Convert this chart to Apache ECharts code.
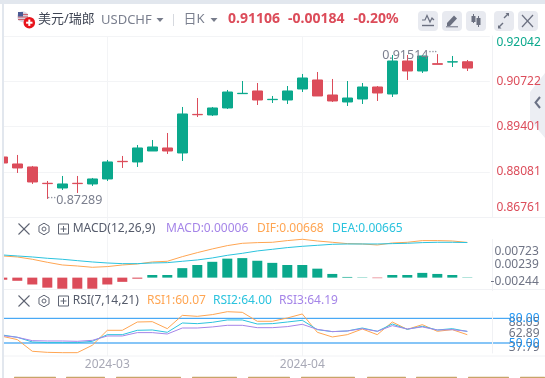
<!DOCTYPE html>
<html><head><meta charset="utf-8">
<style>html,body{margin:0;padding:0;background:#fff}#c{width:545px;height:378px}</style>
<script src="https://cdn.jsdelivr.net/npm/echarts@6/dist/echarts.min.js"></script>
</head><body><div id="c"></div>
<script>
// [open, close, low, high]
const candles = [
[.88512,.88337,.88192,.88629],[.88308,.88192,.88046,.88571],[.88221,.87783,.87725,.88250],[.87745,.87735,.87289,.87812],
[.87608,.87725,.87550,.87958],[.87745,.87735,.87462,.87958],[.87725,.87871,.87667,.87900],[.87871,.88367,.87812,.88425],
[.88385,.88375,.88192,.88542],[.88367,.88775,.88221,.88862],[.88687,.88804,.88687,.89008],[.88775,.88687,.88600,.89212],
[.88629,.89767,.88396,.89971],[.89755,.89745,.89679,.90233],[.89738,.89942,.89708,.89971],[.89942,.90408,.89913,.90467],
[.90360,.90370,.90360,.90729],[.90438,.90175,.90029,.90671],[.90185,.90195,.90088,.90292],[.90175,.90438,.90058,.90583],
[.90496,.90817,.90408,.90934],[.90759,.90292,.90292,.90992],[.90321,.90146,.90117,.90788],[.90117,.90233,.90000,.90729],
[.90204,.90554,.90058,.90671],[.90554,.90379,.90146,.90583],[.90350,.91313,.90263,.91488],[.91313,.91021,.90759,.91488],
[.91021,.91459,.90963,.91488],[.91235,.91215,.91215,.91514],[.91283,.91290,.91138,.91459],[.91290,.91106,.91021,.91342]];
const macdBars = [-.0004,-.0006,-.0013,-.0019,-.0021,-.0021,-.0021,-.0013,-.0008,-.0002,.0005,.0005,.0018,.0024,.0030,.0036,.0037,.0032,.0028,.0024,.0024,.0017,.0007,.00013,.00006,-.0001,.0005,.0005,.0009,.0007,.0005,.00006];
const dif = [.00411,.00392,.00348,.00291,.00240,.00221,.00196,.00209,.00240,.00259,.00297,.00310,.00398,.00474,.00544,.00607,.00651,.00664,.00670,.00702,.00727,.00695,.00670,.00645,.00638,.00619,.00657,.00670,.00702,.00702,.00695,.00668];
const dea = [.00430,.00411,.00392,.00367,.00348,.00322,.00297,.00278,.00265,.00265,.00278,.00284,.00310,.00335,.00373,.00423,.00461,.00506,.00537,.00569,.00594,.00613,.00632,.00638,.00638,.00638,.00645,.00651,.00664,.00670,.00670,.00665];
const rsi1 = [58.1,54.1,39.9,38.6,38.2,38.2,47.2,65.4,65.4,75.5,75.9,67.4,83.6,82.4,84.5,88.05,87.3,76.4,76.4,80.4,85.3,63.0,57.3,60.1,67.0,60.1,75.5,66.6,72.3,64.2,66.2,60.07];
const rsi2 = [59.7,56.9,51.2,50.4,50.4,50.4,52.0,60.1,60.1,65.4,65.8,63.0,74.3,73.5,75.1,78.0,78.0,73.1,73.5,75.5,77.6,66.2,63.8,64.6,68.2,64.2,73.1,66.6,70.3,65.8,67.4,64.00];
const rsi3 = [58.9,56.9,52.8,52.4,52.4,52.0,53.2,58.5,58.5,62.6,62.6,60.9,68.2,68.2,69.5,71.5,71.5,68.6,68.6,69.9,72.7,66.6,63.8,64.6,67.4,64.2,71.1,67.0,69.5,65.8,66.2,64.19];
const priceTicks = [0.92042,0.90722,0.89401,0.88081,0.86761];
const macdTicks = [0.00723,0.00239,-0.00244];
const rsiTicks = [88.05,62.89,37.79];
const rsiTickNudge = [11,1.5,-5];
const rsiLevels = [80,50];
const monthIdx = [7,20];
const monthLabels = ['2024-03','2024-04'];
const categories = Array.from({length:33},(_,i)=>String(i));

const GREEN='#0aa88c',RED='#dc4c5a',ORANGE='#ffa552',CYAN='#2bc3de',PURPLE='#a585e8',GRID='#f3f4f6',AXT='#6f7485',BLUE='#2196f3',LBLUE='#86c5f7';
const FONT='"Noto Sans","Noto Sans CJK SC",sans-serif';
const L=-5.2,W=495;
const xAxisBase=(gi)=>({type:'category',gridIndex:gi,data:categories,boundaryGap:true,axisLine:{show:false},axisTick:{show:false},axisLabel:{show:false},splitLine:{show:false}});
const chart=echarts.init(document.getElementById('c'),null,{renderer:'canvas'});
const gridBase={left:L,width:W,outerBoundsMode:'none',containLabel:false};
const lab=(c,t,b)=>({color:c,fontSize:12,fontFamily:FONT,padding:[t,0,b,0]});
chart.setOption({
 animation:false,
 textStyle:{fontFamily:FONT},
 grid:[
  Object.assign({top:36,height:181},gridBase),
  Object.assign({top:239.5,height:51},gridBase),
  Object.assign({top:311.7,height:41.3},gridBase),
  Object.assign({top:36,height:320},gridBase)
 ],
 xAxis:[xAxisBase(0),xAxisBase(1),xAxisBase(2),
  Object.assign(xAxisBase(3),{
   axisLabel:{show:true,interval:(i)=>monthIdx.includes(i),formatter:(v,i)=>monthLabels[monthIdx.indexOf(i)]||'',color:'#a8a9b6',fontSize:12,margin:3,fontFamily:FONT},
   splitLine:{show:true,interval:(i)=>monthIdx.includes(i),alignWithLabel:true,lineStyle:{color:GRID,width:1}}
  })],
 yAxis:[
  {type:'value',gridIndex:0,position:'right',offset:2,min:0.86761,max:0.92042,z:2,
   axisLine:{show:true,lineStyle:{color:'#f0f1f4'}},
   axisTick:{show:false,customValues:priceTicks},
   splitLine:{show:true,lineStyle:{color:GRID}},
   axisLabel:{customValues:priceTicks,margin:49,align:'right',fontSize:12,fontFamily:FONT,showMinLabel:true,showMaxLabel:true,hideOverlap:false,
     formatter:v=>v>0.92?'{top|'+v.toFixed(5)+'}':v<0.87?'{bot|'+v.toFixed(5)+'}':'{mid|'+v.toFixed(5)+'}',
     rich:{top:lab(GREEN,14,0),bot:lab(RED,0,18),mid:lab(RED,0,0)}}},
  {type:'value',gridIndex:1,position:'right',offset:2,min:-0.00244,max:0.00723,z:2,
   axisLine:{show:true,lineStyle:{color:'#f0f1f4'}},axisTick:{show:false,customValues:macdTicks},splitLine:{show:false},
   axisLabel:{customValues:macdTicks,margin:47,align:'right',fontSize:12,color:AXT,fontFamily:FONT,showMinLabel:true,showMaxLabel:true,hideOverlap:false,
     formatter:v=>v>0.005?'{top|'+v.toFixed(5)+'}':v<0?'{bot|'+v.toFixed(5)+'}':'{mid|'+v.toFixed(5)+'}',
     rich:{top:lab(AXT,24,0),bot:lab(AXT,0,17),mid:lab(AXT,0,0)}}},
  {type:'value',gridIndex:2,position:'right',offset:2,min:37.79,max:88.05,z:2,
   axisLine:{show:true,lineStyle:{color:'#f0f1f4'}},axisTick:{show:false},splitLine:{show:false},
   axisLabel:{show:false}},
  {type:'value',gridIndex:3,min:0,max:1,show:false}
 ],
 series:[
  {type:'candlestick',xAxisIndex:0,yAxisIndex:0,data:candles,barWidth:10,z:3,
   itemStyle:{color:GREEN,color0:RED,borderColor:GREEN,borderColor0:RED,borderWidth:1},
   markPoint:{symbol:'circle',symbolSize:0,silent:true,animation:false,
    data:[
     {coord:[3,0.87289],label:{show:true,position:'right',distance:0,offset:[0,2],formatter:'{d|···}{v|0.87289}'}},
     {coord:[29,0.91514],label:{show:true,position:'left',distance:0,offset:[0,1],formatter:'{v|0.91514}{d|···}'}}
    ],
    label:{rich:{v:{color:'#7b7f8e',fontSize:12.5,fontFamily:FONT},d:{color:'#8a8e9b',fontSize:11,padding:[0,0,7,0]}}}}},
  {type:'bar',xAxisIndex:1,yAxisIndex:1,data:macdBars,barWidth:10,z:2,itemStyle:{color:p=>p.value>=0?GREEN:RED}},
  {type:'line',xAxisIndex:1,yAxisIndex:1,data:dif,symbol:'none',clip:false,lineStyle:{color:ORANGE,width:1},z:3},
  {type:'line',xAxisIndex:1,yAxisIndex:1,data:dea,symbol:'none',clip:false,lineStyle:{color:CYAN,width:1},z:3},
  {type:'line',xAxisIndex:2,yAxisIndex:2,data:rsi1,symbol:'none',clip:false,lineStyle:{color:ORANGE,width:1},z:3},
  {type:'line',xAxisIndex:2,yAxisIndex:2,data:rsi2,symbol:'none',clip:false,lineStyle:{color:CYAN,width:1},z:4},
  {type:'line',xAxisIndex:2,yAxisIndex:2,data:rsi3,symbol:'none',clip:false,lineStyle:{color:PURPLE,width:1},z:5}
 ]
});
// ---- chrome
const els=[];
const txt=(x,y,t,color,size,weight,align)=>els.push({type:'text',z:50,x,y,style:{text:t,fill:color,font:(weight||'normal')+' '+(size||12)+'px '+FONT,textVerticalAlign:'middle',textAlign:align||'left'}});
const rect=(x,y,w,h,fill,r,z)=>els.push({type:'rect',z:z||40,shape:{x,y,width:w,height:h,r:r||0},style:{fill}});
const line=(x1,y1,x2,y2,c,w)=>els.push({type:'line',z:41,shape:{x1,y1,x2,y2},style:{stroke:c,lineWidth:w||1,fill:null}});
const poly=(pts,c,w)=>els.push({type:'polyline',z:51,shape:{points:pts},style:{stroke:c,lineWidth:w||1,fill:null}});
const shape=(pts,f)=>els.push({type:'polygon',z:51,shape:{points:pts},style:{fill:f}});
const circ=(cx,cy,r,fill,stroke,lw)=>els.push({type:'circle',z:51,shape:{cx,cy,r},style:{fill:fill||null,stroke:stroke||null,lineWidth:lw||1}});

rect(0,0,2,378,'#ffffff');
rect(2,0,2,378,'#e2e7ee');
rect(0,0,545,4,'#e2e7ee');
[[217.5],[289.5],[356]].forEach(a=>line(4,a[0],545,a[0],'#f1f2f5',1));
// RSI tick labels and reference levels positioned through the axis scale
rsiTicks.forEach((v,i)=>{
  const y=chart.convertToPixel({yAxisIndex:2},v);
  txt(539.5,y+rsiTickNudge[i],v.toFixed(2),AXT,12,'normal','right');
});
rsiLevels.forEach((v,i)=>{
  const y=chart.convertToPixel({yAxisIndex:2},v);
  line(4,y,510,y,i?LBLUE:BLUE,i?2:1);
  els[els.length-1].z=2;
  txt(539.5,y+0.5,v.toFixed(2),BLUE,12,'normal','right');
});
// right tab
shape([[530,92],[545,73],[545,138],[530,120]],'#eceef3');
els[els.length-1].z=1;
poly([[540,97],[535.5,102.5],[540,108]],'#6b7285',2);
// bottom strip
[[14,56],[66,105],[116,181],[192,237],[248,290],[301,355],[367,406],[416,457],[468,509],[520,545]].forEach(a=>rect(a[0],376.7,a[1]-a[0],1.3,'#c8a468',0.5));
// header
circ(22.7,16.7,5.5,'#d9dbe6');
line(18,14.5,28,14.5,'#c9616f',1.2);line(18,17,28,17,'#c9616f',1.2);line(18,19.5,28,19.5,'#c9616f',1.2);
els.push({type:'rect',z:52,shape:{x:18,y:12,width:5,height:4.5},style:{fill:'#4a5a94'}});
circ(29.3,22.7,5.8,'#e8141c');
els.forEach(e=>{if(e.type==='line'&&e.shape.x1===18)e.z=51});
els.push({type:'rect',z:53,shape:{x:28.3,y:19.5,width:2,height:6.4},style:{fill:'#fff'}});
els.push({type:'rect',z:53,shape:{x:26.1,y:21.7,width:6.4,height:2},style:{fill:'#fff'}});
txt(38,19.5,'美元/瑞郎','#3f4554',13);
txt(101,20,'USDCHF','#7a7f8e',13);
shape([[156.5,18],[163.5,18],[160,22]],'#777c8b');
line(173.5,14,173.5,26,'#d6d9df',1);
txt(183.5,19.5,'日K','#7a7f8e',13);
shape([[210.5,18],[217.5,18],[214,22]],'#777c8b');
txt(228,19.5,'0.91106',RED,14,'bold');
txt(288,19.5,'-0.00184',RED,14,'bold');
txt(353.5,19.5,'-0.20%',RED,14,'bold');
[418,442,466,494,518].forEach(x=>rect(x,11,20,20,'#e8eaf0',4,45));
const IC='#6b7080';
poly([[422,20],[425,20],[427,15.5],[430,22],[432,18],[434,20]],IC,1.2);line(422,25.5,434,25.5,IC,1.4);els[els.length-1].z=51;
shape([[447,23],[454,15.5],[457,18.5],[450,26],[447,26]],IC);line(446,26.8,458,26.8,IC,1);els[els.length-1].z=51;
[[473.5,15,19,23],[478.5,17,21,27]].forEach(a=>{line(a[0],a[1]-1,a[0],a[3],IC,1);els[els.length-1].z=51;rect(a[0]-2,a[1]+1,4,a[2]-a[1]+ (a[0]>475?3:2),IC,0,51);});
poly([[504,18],[508.5,13.5]],IC,1.4);shape([[505.5,13],[509,13],[509,16.5]],IC);
poly([[503,23],[498.5,27.5]],IC,1.4);shape([[498,25],[498,28.5],[501.5,28.5]],IC);
poly([[522,15],[533,27]],IC,1.2);poly([[533,15],[522,27]],IC,1.2);
// pane legends
function paneIcons(y){
  const c='#5f6473';
  poly([[18.5,y-5.5],[29.5,y+5.5]],c,1.1);poly([[29.5,y-5.5],[18.5,y+5.5]],c,1.1);
  const pts=[];for(let i=0;i<6;i++){const a=Math.PI/3*i+Math.PI/6;pts.push([44+5.8*Math.cos(a),y+5.8*Math.sin(a)]);}
  els.push({type:'polygon',z:51,shape:{points:pts},style:{fill:null,stroke:c,lineWidth:1}});
  circ(44,y,2,null,c,1);
  els.push({type:'rect',z:51,shape:{x:58.5,y:y-5,width:10,height:10},style:{fill:null,stroke:c,lineWidth:1}});
  poly([[63.5,y-3],[63.5,y+3]],c,1);poly([[60.5,y],[66.5,y]],c,1);
}
paneIcons(229);paneIcons(301);
txt(72.7,229,'MACD(12,26,9)','#555b6b',12);
txt(166,229,'MACD:0.00006',PURPLE,12);
txt(257,229,'DIF:0.00668',ORANGE,12);
txt(332,229,'DEA:0.00665',CYAN,12);
txt(72.7,301,'RSI(7,14,21)','#555b6b',12);
txt(147,301,'RSI1:60.07',ORANGE,12);
txt(213,301,'RSI2:64.00',CYAN,12);
txt(279,301,'RSI3:64.19',PURPLE,12);
chart.setOption({graphic:{elements:els}});
</script></body></html>
